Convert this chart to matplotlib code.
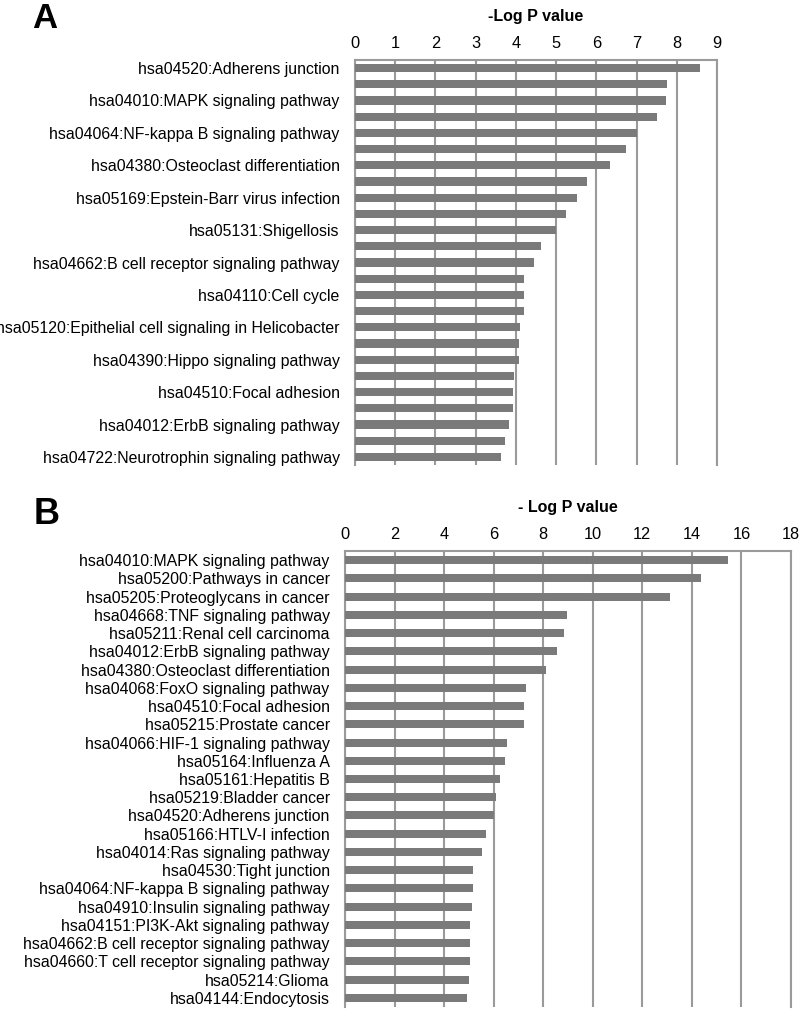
import numpy as np
import matplotlib.pyplot as plt

plt.rcParams["font.family"] = ["Liberation Sans", "DejaVu Sans"]

# Panel A: 25 bars, only every other one is labelled in the figure
a_labels = [
    "hsa04520:Adherens junction",
    "hsa04010:MAPK signaling pathway",
    "hsa04064:NF-kappa B signaling pathway",
    "hsa04380:Osteoclast differentiation",
    "hsa05169:Epstein-Barr virus infection",
    "hsa05131:Shigellosis",
    "hsa04662:B cell receptor signaling pathway",
    "hsa04110:Cell cycle",
    "hsa05120:Epithelial cell signaling in Helicobacter",
    "hsa04390:Hippo signaling pathway",
    "hsa04510:Focal adhesion",
    "hsa04012:ErbB signaling pathway",
    "hsa04722:Neurotrophin signaling pathway",
]
a_values = [8.58, 7.76, 7.72, 7.52, 7.00, 6.74, 6.35, 5.76, 5.52, 5.25,
            5.00, 4.62, 4.46, 4.19, 4.19, 4.19, 4.11, 4.07, 4.07, 3.96,
            3.92, 3.92, 3.83, 3.72, 3.64]

b_labels = [
    "hsa04010:MAPK signaling pathway",
    "hsa05200:Pathways in cancer",
    "hsa05205:Proteoglycans in cancer",
    "hsa04668:TNF signaling pathway",
    "hsa05211:Renal cell carcinoma",
    "hsa04012:ErbB signaling pathway",
    "hsa04380:Osteoclast differentiation",
    "hsa04068:FoxO signaling pathway",
    "hsa04510:Focal adhesion",
    "hsa05215:Prostate cancer",
    "hsa04066:HIF-1 signaling pathway",
    "hsa05164:Influenza A",
    "hsa05161:Hepatitis B",
    "hsa05219:Bladder cancer",
    "hsa04520:Adherens junction",
    "hsa05166:HTLV-I infection",
    "hsa04014:Ras signaling pathway",
    "hsa04530:Tight junction",
    "hsa04064:NF-kappa B signaling pathway",
    "hsa04910:Insulin signaling pathway",
    "hsa04151:PI3K-Akt signaling pathway",
    "hsa04662:B cell receptor signaling pathway",
    "hsa04660:T cell receptor signaling pathway",
    "hsa05214:Glioma",
    "hsa04144:Endocytosis",
]
b_values = [15.45, 14.38, 13.10, 8.95, 8.82, 8.56, 8.10, 7.30, 7.23, 7.23,
            6.53, 6.46, 6.27, 6.08, 6.00, 5.69, 5.51, 5.18, 5.18, 5.13,
            5.06, 5.06, 5.05, 5.00, 4.93]

bar_color = "#7a7a7a"
grid_color = "#9a9a9a"
W, H = 800, 1010

fig = plt.figure(figsize=(W / 100, H / 100), dpi=100)


def panel(rect_px, values, ticks_at, labels, xmax, step, title, bar_h):
    x0, y0, x1, y1 = rect_px
    ax = fig.add_axes([x0 / W, 1 - y1 / H, (x1 - x0) / W, (y1 - y0) / H])
    y = np.arange(len(values))
    ax.barh(y, values, height=bar_h, color=bar_color, zorder=3)
    ax.set_ylim(len(values) - 0.5, -0.5)
    ax.set_xlim(0, xmax)
    ax.set_xticks(np.arange(0, xmax + step, step))
    ax.set_yticks(ticks_at)
    ax.set_yticklabels(labels)
    ax.xaxis.tick_top()
    ax.xaxis.set_label_position("top")
    ax.set_xlabel(title, fontsize=11.5, fontweight="bold", labelpad=11)
    ax.tick_params(axis="x", length=0, pad=6.5, labelsize=11.8)
    ax.tick_params(axis="y", length=0, pad=11, labelsize=11.4)
    ax.grid(axis="x", color=grid_color, lw=1.5, zorder=1)
    for s in ["top", "left", "right"]:
        ax.spines[s].set_color(grid_color)
        ax.spines[s].set_linewidth(1.5)
    ax.spines["bottom"].set_visible(False)
    return ax


panel((355, 60, 717, 465), a_values, list(range(0, 25, 2)), a_labels,
      9, 1, "-Log P value", 0.5)
panel((345, 551, 791, 1007), b_values, list(range(25)), b_labels,
      18, 2, "- Log P value", 0.44)

fig.text(32 / W, 1 - 28 / H, "A", fontsize=25, fontweight="bold", va="baseline")
fig.text(34 / W, 1 - 524 / H, "B", fontsize=26, fontweight="bold", va="baseline")

fig.savefig("out.png", dpi=100)
